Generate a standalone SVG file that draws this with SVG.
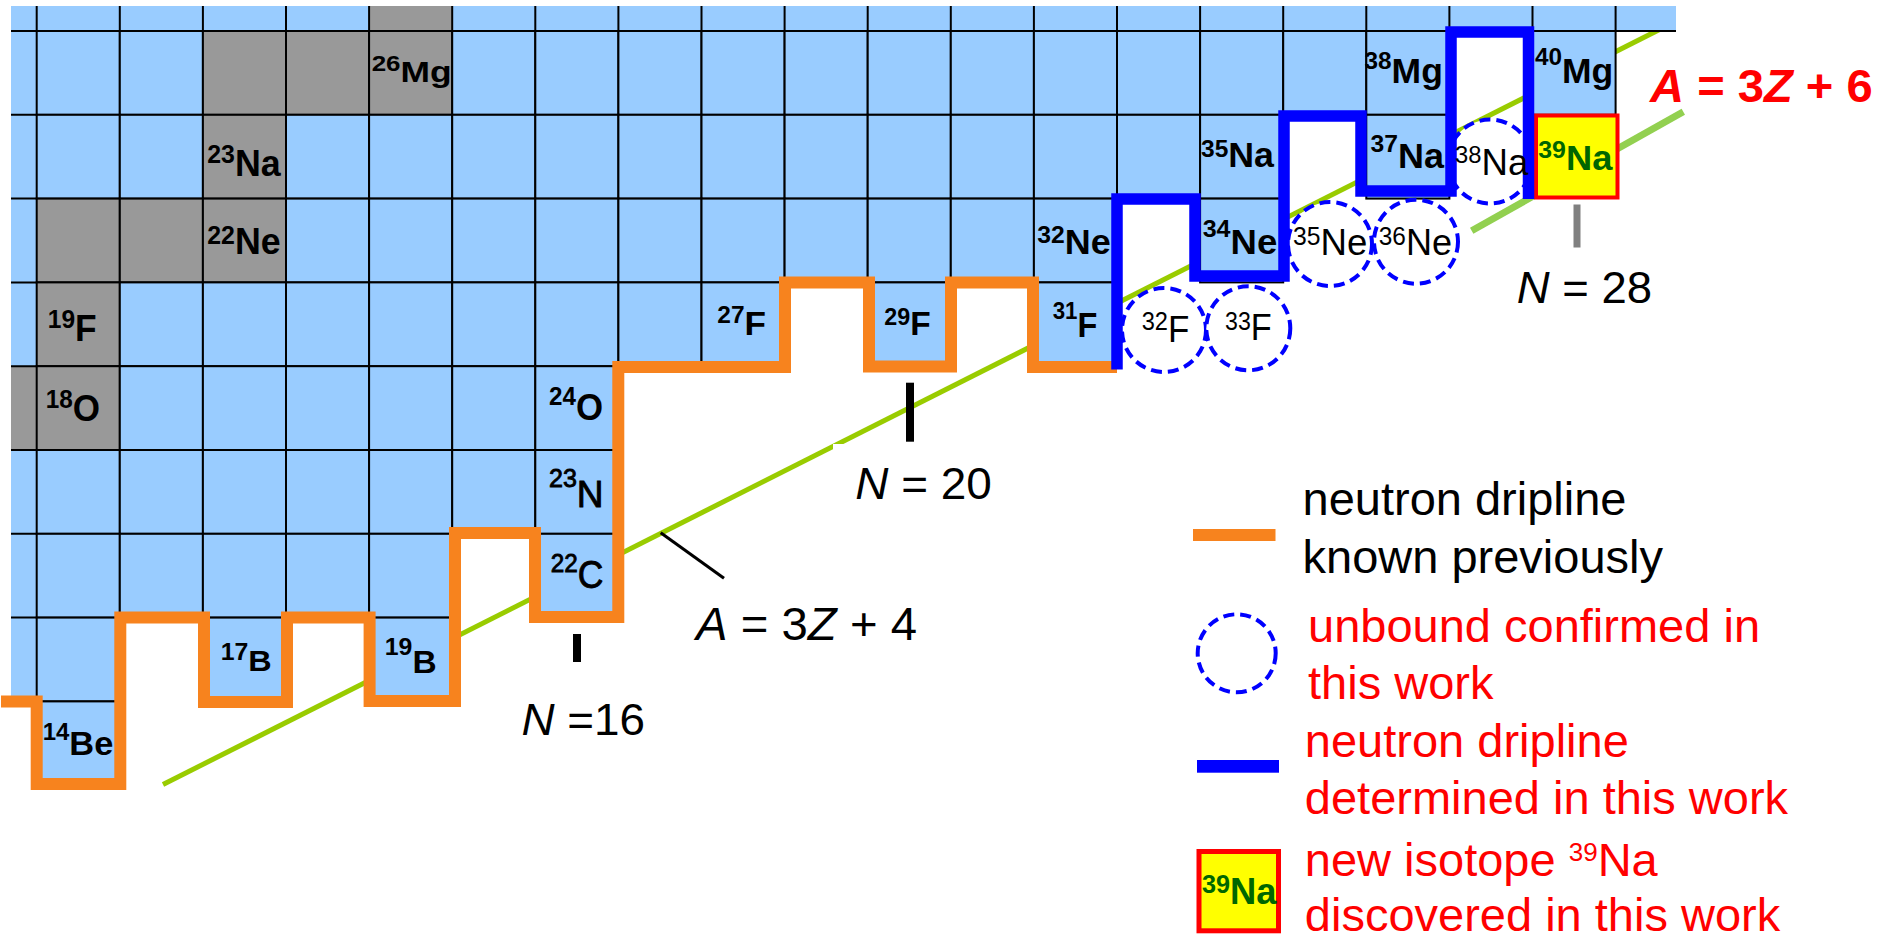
<svg xmlns="http://www.w3.org/2000/svg" width="1879" height="941" viewBox="0 0 1879 941">
<defs>
<style>
.c{fill:#99ccff;stroke:#000;stroke-width:2}
.g{fill:#999999;stroke:#000;stroke-width:2}
.b{font-family:"Liberation Sans",Arial,sans-serif;font-weight:bold;fill:#000}
.r{font-family:"Liberation Sans",Arial,sans-serif;fill:#000}
.m{stroke:#000;stroke-width:0.9}
.i{font-style:italic}
.u{fill:#fff;stroke:#0000ff;stroke-width:4;stroke-dasharray:11 6}
.rd{fill:#ff0000}
.gn{fill:#006600}
.lg{font-size:47px}
</style>
</defs>
<rect width="1879" height="941" fill="#fff"/>

<g id="guide-lines">
<line x1="163" y1="784.5" x2="1670" y2="24.2" stroke="#99cc00" stroke-width="5"/>
<line x1="1471.7" y1="230.7" x2="1683.3" y2="111.7" stroke="#92d050" stroke-width="7"/>
<rect x="833" y="444" width="150" height="66" fill="#fff"/>
</g>

<g id="grid">
<rect x="11" y="6" width="1665" height="25" fill="#99ccff"/>
<rect x="369.1" y="6" width="83.1" height="25" fill="#999999"/>
<rect x="11" y="31" width="25.7" height="670.4" fill="#99ccff"/>
<rect x="11" y="366.2" width="25.7" height="83.8" fill="#999999"/>
<path d="M36.7 6V31M119.8 6V31M202.9 6V31M286 6V31M369.1 6V31M452.2 6V31M535.3 6V31M618.4 6V31M701.5 6V31M784.6 6V31M867.7 6V31M950.8 6V31M1033.9 6V31M1117 6V31M1200.1 6V31M1283.2 6V31M1366.3 6V31M1449.4 6V31M1532.5 6V31M1615.6 6V31M11 31H1676M11 114.8H36.7M11 198.6H36.7M11 282.4H36.7M11 366.2H36.7M11 450H36.7M11 533.8H36.7M11 617.6H36.7" stroke="#000" stroke-width="2" fill="none"/>
<rect class="c" x="36.7" y="31" width="83.1" height="83.8"/>
<rect class="c" x="119.8" y="31" width="83.1" height="83.8"/>
<rect class="g" x="202.9" y="31" width="83.1" height="83.8"/>
<rect class="g" x="286" y="31" width="83.1" height="83.8"/>
<rect class="g" x="369.1" y="31" width="83.1" height="83.8"/>
<rect class="c" x="452.2" y="31" width="83.1" height="83.8"/>
<rect class="c" x="535.3" y="31" width="83.1" height="83.8"/>
<rect class="c" x="618.4" y="31" width="83.1" height="83.8"/>
<rect class="c" x="701.5" y="31" width="83.1" height="83.8"/>
<rect class="c" x="784.6" y="31" width="83.1" height="83.8"/>
<rect class="c" x="867.7" y="31" width="83.1" height="83.8"/>
<rect class="c" x="950.8" y="31" width="83.1" height="83.8"/>
<rect class="c" x="1033.9" y="31" width="83.1" height="83.8"/>
<rect class="c" x="1117" y="31" width="83.1" height="83.8"/>
<rect class="c" x="1200.1" y="31" width="83.1" height="83.8"/>
<rect class="c" x="1283.2" y="31" width="83.1" height="83.8"/>
<rect class="c" x="1366.3" y="31" width="83.1" height="83.8"/>
<rect class="c" x="1532.5" y="31" width="83.1" height="83.8"/>
<rect class="c" x="36.7" y="114.8" width="83.1" height="83.8"/>
<rect class="c" x="119.8" y="114.8" width="83.1" height="83.8"/>
<rect class="g" x="202.9" y="114.8" width="83.1" height="83.8"/>
<rect class="c" x="286" y="114.8" width="83.1" height="83.8"/>
<rect class="c" x="369.1" y="114.8" width="83.1" height="83.8"/>
<rect class="c" x="452.2" y="114.8" width="83.1" height="83.8"/>
<rect class="c" x="535.3" y="114.8" width="83.1" height="83.8"/>
<rect class="c" x="618.4" y="114.8" width="83.1" height="83.8"/>
<rect class="c" x="701.5" y="114.8" width="83.1" height="83.8"/>
<rect class="c" x="784.6" y="114.8" width="83.1" height="83.8"/>
<rect class="c" x="867.7" y="114.8" width="83.1" height="83.8"/>
<rect class="c" x="950.8" y="114.8" width="83.1" height="83.8"/>
<rect class="c" x="1033.9" y="114.8" width="83.1" height="83.8"/>
<rect class="c" x="1117" y="114.8" width="83.1" height="83.8"/>
<rect class="c" x="1200.1" y="114.8" width="83.1" height="83.8"/>
<rect class="c" x="1366.3" y="114.8" width="83.1" height="83.8"/>
<rect class="g" x="36.7" y="198.6" width="83.1" height="83.8"/>
<rect class="g" x="119.8" y="198.6" width="83.1" height="83.8"/>
<rect class="g" x="202.9" y="198.6" width="83.1" height="83.8"/>
<rect class="c" x="286" y="198.6" width="83.1" height="83.8"/>
<rect class="c" x="369.1" y="198.6" width="83.1" height="83.8"/>
<rect class="c" x="452.2" y="198.6" width="83.1" height="83.8"/>
<rect class="c" x="535.3" y="198.6" width="83.1" height="83.8"/>
<rect class="c" x="618.4" y="198.6" width="83.1" height="83.8"/>
<rect class="c" x="701.5" y="198.6" width="83.1" height="83.8"/>
<rect class="c" x="784.6" y="198.6" width="83.1" height="83.8"/>
<rect class="c" x="867.7" y="198.6" width="83.1" height="83.8"/>
<rect class="c" x="950.8" y="198.6" width="83.1" height="83.8"/>
<rect class="c" x="1033.9" y="198.6" width="83.1" height="83.8"/>
<rect class="c" x="1200.1" y="198.6" width="83.1" height="83.8"/>
<rect class="g" x="36.7" y="282.4" width="83.1" height="83.8"/>
<rect class="c" x="119.8" y="282.4" width="83.1" height="83.8"/>
<rect class="c" x="202.9" y="282.4" width="83.1" height="83.8"/>
<rect class="c" x="286" y="282.4" width="83.1" height="83.8"/>
<rect class="c" x="369.1" y="282.4" width="83.1" height="83.8"/>
<rect class="c" x="452.2" y="282.4" width="83.1" height="83.8"/>
<rect class="c" x="535.3" y="282.4" width="83.1" height="83.8"/>
<rect class="c" x="618.4" y="282.4" width="83.1" height="83.8"/>
<rect class="c" x="701.5" y="282.4" width="83.1" height="83.8"/>
<rect class="c" x="867.7" y="282.4" width="83.1" height="83.8"/>
<rect class="c" x="1033.9" y="282.4" width="83.1" height="83.8"/>
<rect class="g" x="36.7" y="366.2" width="83.1" height="83.8"/>
<rect class="c" x="119.8" y="366.2" width="83.1" height="83.8"/>
<rect class="c" x="202.9" y="366.2" width="83.1" height="83.8"/>
<rect class="c" x="286" y="366.2" width="83.1" height="83.8"/>
<rect class="c" x="369.1" y="366.2" width="83.1" height="83.8"/>
<rect class="c" x="452.2" y="366.2" width="83.1" height="83.8"/>
<rect class="c" x="535.3" y="366.2" width="83.1" height="83.8"/>
<rect class="c" x="36.7" y="450" width="83.1" height="83.8"/>
<rect class="c" x="119.8" y="450" width="83.1" height="83.8"/>
<rect class="c" x="202.9" y="450" width="83.1" height="83.8"/>
<rect class="c" x="286" y="450" width="83.1" height="83.8"/>
<rect class="c" x="369.1" y="450" width="83.1" height="83.8"/>
<rect class="c" x="452.2" y="450" width="83.1" height="83.8"/>
<rect class="c" x="535.3" y="450" width="83.1" height="83.8"/>
<rect class="c" x="36.7" y="533.8" width="83.1" height="83.8"/>
<rect class="c" x="119.8" y="533.8" width="83.1" height="83.8"/>
<rect class="c" x="202.9" y="533.8" width="83.1" height="83.8"/>
<rect class="c" x="286" y="533.8" width="83.1" height="83.8"/>
<rect class="c" x="369.1" y="533.8" width="83.1" height="83.8"/>
<rect class="c" x="535.3" y="533.8" width="83.1" height="83.8"/>
<rect class="c" x="36.7" y="617.6" width="83.1" height="83.8"/>
<rect class="c" x="202.9" y="617.6" width="83.1" height="83.8"/>
<rect class="c" x="369.1" y="617.6" width="83.1" height="83.8"/>
<rect class="c" x="36.7" y="701.4" width="83.1" height="83.8"/>
</g>

<g id="na39-cell">
<rect x="1536" y="115.5" width="81.5" height="82" fill="#ffff00" stroke="#ff0000" stroke-width="4"/>
</g>

<g id="unbound">
<circle class="u" cx="1164" cy="330" r="42"/>
<circle class="u" cx="1248.3" cy="328.3" r="42"/>
<circle class="u" cx="1330" cy="244" r="42"/>
<circle class="u" cx="1416" cy="241.7" r="42"/>
<circle class="u" cx="1490" cy="161.5" r="42"/>
</g>

<g id="connectors">
<path d="M1 701.5H36.7V784H120.3V617.5H204V702H287V617.5H369.6V701H455V533H535V617H618.3V367H785V282.5H869V366.5H951V282.5H1033V367H1117" fill="none" stroke="#f7831e" stroke-width="12" stroke-linejoin="miter"/>
<path d="M1117 369.5V199H1195V276H1284V116H1361V191H1451V32H1528.5V199" fill="none" stroke="#0000ff" stroke-width="11.5" stroke-linejoin="miter"/>
<rect x="573" y="634" width="8" height="28" fill="#000"/>
<rect x="906" y="382.7" width="8" height="59" fill="#000"/>
<rect x="1573.5" y="204.5" width="7" height="43" fill="#808080"/>
<line x1="660.7" y1="532.7" x2="724" y2="578.3" stroke="#000" stroke-width="3"/>
</g>

<g id="labels">
<g id="iso-26Mg"><text class="b" x="371.7" y="82.3" font-size="30" textLength="80" lengthAdjust="spacingAndGlyphs"><tspan font-size="22" dy="-11.6">26</tspan><tspan dy="11.6">Mg</tspan></text></g>
<g id="iso-38Mg"><text class="b" x="1364.5" y="83" font-size="35" textLength="78.4" lengthAdjust="spacingAndGlyphs"><tspan font-size="24" dy="-14">38</tspan><tspan dy="14">Mg</tspan></text></g>
<g id="iso-40Mg"><text class="b" x="1535" y="83.3" font-size="35" textLength="78.3" lengthAdjust="spacingAndGlyphs"><tspan font-size="24" dy="-18">40</tspan><tspan dy="18">Mg</tspan></text></g>
<g id="iso-23Na"><text class="b" x="207.3" y="175.7" font-size="36" textLength="73.4" lengthAdjust="spacingAndGlyphs"><tspan font-size="25" dy="-12.4">23</tspan><tspan dy="12.4">Na</tspan></text></g>
<g id="iso-35Na"><text class="b" x="1201" y="167" font-size="35" textLength="73" lengthAdjust="spacingAndGlyphs"><tspan font-size="24" dy="-10">35</tspan><tspan dy="10">Na</tspan></text></g>
<g id="iso-37Na"><text class="b" x="1370.6" y="168.3" font-size="35" textLength="73.4" lengthAdjust="spacingAndGlyphs"><tspan font-size="24" dy="-16">37</tspan><tspan dy="16">Na</tspan></text></g>
<g id="iso-39Na"><text class="b gn" x="1538.3" y="170" font-size="35" textLength="74" lengthAdjust="spacingAndGlyphs"><tspan font-size="24" dy="-11.7">39</tspan><tspan dy="11.7">Na</tspan></text></g>
<g id="iso-38Na"><text class="r" x="1455" y="175" font-size="37" textLength="73.3" lengthAdjust="spacingAndGlyphs"><tspan font-size="24" dy="-11.7">38</tspan><tspan dy="11.7">Na</tspan></text></g>
<g id="iso-22Ne"><text class="b" x="207.3" y="254" font-size="36" textLength="73.4" lengthAdjust="spacingAndGlyphs"><tspan font-size="25" dy="-10">22</tspan><tspan dy="10">Ne</tspan></text></g>
<g id="iso-32Ne"><text class="b" x="1037.3" y="254" font-size="35" textLength="73.4" lengthAdjust="spacingAndGlyphs"><tspan font-size="24" dy="-10.7">32</tspan><tspan dy="10.7">Ne</tspan></text></g>
<g id="iso-34Ne"><text class="b" x="1202.7" y="254" font-size="35" textLength="74.6" lengthAdjust="spacingAndGlyphs"><tspan font-size="24" dy="-17">34</tspan><tspan dy="17">Ne</tspan></text></g>
<g id="iso-35Ne"><text class="r" x="1293" y="255" font-size="37" textLength="74.3" lengthAdjust="spacingAndGlyphs"><tspan font-size="25" dy="-10">35</tspan><tspan dy="10">Ne</tspan></text></g>
<g id="iso-36Ne"><text class="r" x="1378.8" y="255" font-size="37" textLength="73.2" lengthAdjust="spacingAndGlyphs"><tspan font-size="25" dy="-10">36</tspan><tspan dy="10">Ne</tspan></text></g>
<g id="iso-19F"><text class="b" x="47.8" y="340.7" font-size="36" textLength="48.9" lengthAdjust="spacingAndGlyphs"><tspan font-size="25" dy="-12.7">19</tspan><tspan dy="12.7">F</tspan></text></g>
<g id="iso-27F"><text class="b" x="717.3" y="335" font-size="33" textLength="48.7" lengthAdjust="spacingAndGlyphs"><tspan font-size="23" dy="-11.7">27</tspan><tspan dy="11.7">F</tspan></text></g>
<g id="iso-29F"><text class="b" x="884.3" y="335" font-size="33" textLength="46.4" lengthAdjust="spacingAndGlyphs"><tspan font-size="23" dy="-10">29</tspan><tspan dy="10">F</tspan></text></g>
<g id="iso-31F"><text class="b" x="1052.7" y="336.7" font-size="35" textLength="44.6" lengthAdjust="spacingAndGlyphs"><tspan font-size="24" dy="-18">31</tspan><tspan dy="18">F</tspan></text></g>
<g id="iso-32F"><text class="r" x="1141.7" y="341.7" font-size="37" textLength="47.6" lengthAdjust="spacingAndGlyphs"><tspan font-size="25" dy="-11.7">32</tspan><tspan dy="11.7">F</tspan></text></g>
<g id="iso-33F"><text class="r" x="1225" y="340" font-size="37" textLength="46.7" lengthAdjust="spacingAndGlyphs"><tspan font-size="25" dy="-10">33</tspan><tspan dy="10">F</tspan></text></g>
<g id="iso-18O"><text class="b" x="45.7" y="420.7" font-size="36" textLength="54.3" lengthAdjust="spacingAndGlyphs"><tspan font-size="25" dy="-12.7">18</tspan><tspan dy="12.7">O</tspan></text></g>
<g id="iso-24O"><text class="b" x="549" y="420" font-size="36" textLength="54" lengthAdjust="spacingAndGlyphs"><tspan font-size="25" dy="-15">24</tspan><tspan dy="15">O</tspan></text></g>
<g id="iso-23N"><text class="r m" x="549" y="506.5" font-size="37" textLength="54.6" lengthAdjust="spacingAndGlyphs"><tspan font-size="25" dy="-20">23</tspan><tspan dy="20">N</tspan></text></g>
<g id="iso-22C"><text class="r m" x="550.7" y="588.3" font-size="38" textLength="52.6" lengthAdjust="spacingAndGlyphs"><tspan font-size="26" dy="-16.6">22</tspan><tspan dy="16.6">C</tspan></text></g>
<g id="iso-17B"><text class="b" x="220.7" y="671" font-size="30" textLength="51" lengthAdjust="spacingAndGlyphs"><tspan font-size="23" dy="-11">17</tspan><tspan dy="11">B</tspan></text></g>
<g id="iso-19B"><text class="b" x="384.8" y="673.3" font-size="31" textLength="51.8" lengthAdjust="spacingAndGlyphs"><tspan font-size="23" dy="-18">19</tspan><tspan dy="18">B</tspan></text></g>
<g id="iso-14Be"><text class="b" x="42.7" y="755" font-size="33" textLength="70.6" lengthAdjust="spacingAndGlyphs"><tspan font-size="23" dy="-15">14</tspan><tspan dy="15">Be</tspan></text></g>
</g>

<g id="annotations">
<text class="r" x="521.4" y="735" font-size="45" textLength="123.6" lengthAdjust="spacingAndGlyphs"><tspan class="i">N</tspan> =16</text>
<text class="r" x="855.3" y="499.3" font-size="45" textLength="136.6" lengthAdjust="spacingAndGlyphs"><tspan class="i">N</tspan> = 20</text>
<text class="r" x="696" y="640" font-size="46" textLength="221" lengthAdjust="spacingAndGlyphs"><tspan class="i">A</tspan> = 3<tspan class="i">Z</tspan> + 4</text>
<text class="r" x="1516.7" y="303.3" font-size="45" textLength="135.3" lengthAdjust="spacingAndGlyphs"><tspan class="i">N</tspan> = 28</text>
<text class="b rd" x="1650" y="101.7" font-size="47" textLength="222.7" lengthAdjust="spacingAndGlyphs"><tspan class="i">A</tspan> = 3<tspan class="i">Z</tspan> + 6</text>
</g>

<g id="legend">
<rect x="1193" y="529" width="82.5" height="12" fill="#f7831e"/>
<text class="r lg" x="1302.5" y="515">neutron dripline</text>
<text class="r lg" x="1302.5" y="572.7">known previously</text>
<circle class="u" cx="1236.7" cy="653.3" r="39"/>
<text class="r lg rd" x="1308" y="641.7">unbound confirmed in</text>
<text class="r lg rd" x="1308" y="699.3">this work</text>
<rect x="1197" y="760" width="82" height="12.7" fill="#0000ff"/>
<text class="r lg rd" x="1304.8" y="757.3">neutron dripline</text>
<text class="r lg rd" x="1304.8" y="814.3">determined in this work</text>
<rect x="1199" y="851.5" width="79.5" height="79.3" fill="#ffff00" stroke="#ff0000" stroke-width="5"/>
<text class="b gn" x="1202" y="904" font-size="36" textLength="74.5" lengthAdjust="spacingAndGlyphs"><tspan font-size="25" dy="-10.7">39</tspan><tspan dy="10.7">Na</tspan></text>
<text class="r lg rd" x="1304.8" y="875.5">new isotope <tspan font-size="26" dy="-15">39</tspan><tspan dy="15">Na</tspan></text>
<text class="r lg rd" x="1304.8" y="930.5">discovered in this work</text>
</g>
</svg>
